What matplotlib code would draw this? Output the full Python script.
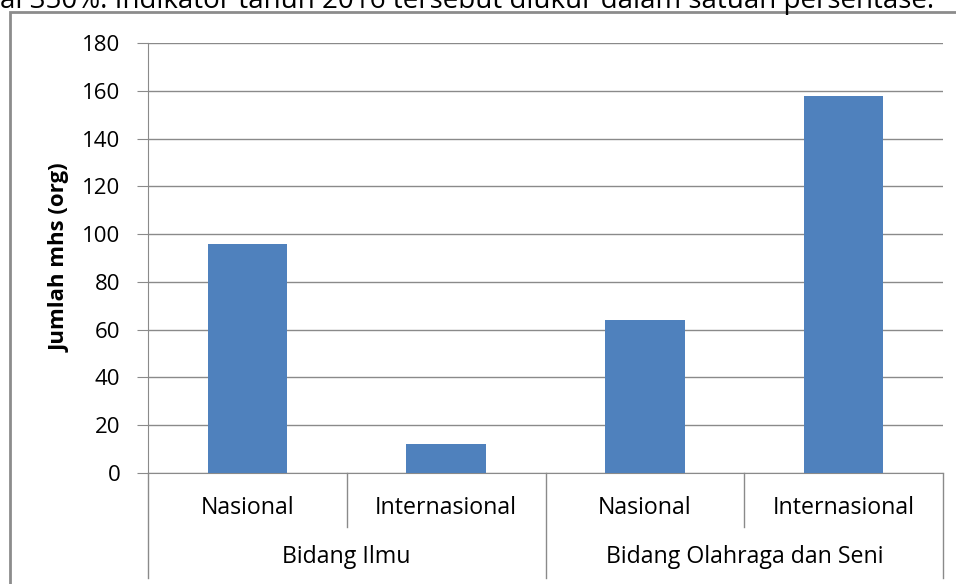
import matplotlib.pyplot as plt
from matplotlib.patches import Rectangle

plt.rcParams['font.family'] = ['Open Sans', 'DejaVu Sans']

# data
kategori = ["Nasional", "Internasional", "Nasional", "Internasional"]
kelompok = ["Bidang Ilmu", "Bidang Olahraga dan Seni"]
jumlah_mhs = [96, 12, 64, 158]
yticks = [0, 20, 40, 60, 80, 100, 120, 140, 160, 180]

W, H = 956, 584
fig = plt.figure(figsize=(W / 100, H / 100), dpi=100)

# text of the page above the chart (cut off at the top, as in the scan)
fig.text(0.0, 1 - 8 / H, "al 350%. Indikator tahun 2016 tersebut diukur dalam satuan persentase.",
         fontsize=20, va="baseline", ha="left", color="black")

# outer chart frame
fig.add_artist(Rectangle((10 / W, -0.1), 1.2, 1 - 12 / H + 0.1, transform=fig.transFigure,
                         fill=False, edgecolor="#8c8c8c", linewidth=2))

ax = fig.add_axes([148 / W, (H - 473) / H, 795 / W, 430 / H])
x = range(len(jumlah_mhs))
ax.bar(x, jumlah_mhs, width=0.40, color="#4F81BD", zorder=3)

ax.set_xlim(-0.5, len(jumlah_mhs) - 0.5)
ax.set_ylim(0, 180)
ax.set_yticks(yticks)
ax.yaxis.grid(True, color="#8a8a8a", linewidth=1)
ax.set_axisbelow(True)
ax.tick_params(axis="y", direction="out", length=8, color="#8a8a8a", labelsize=16, pad=12)
ax.set_xticks([])
for s in ["top", "right"]:
    ax.spines[s].set_visible(False)
ax.spines["left"].set_color("#8a8a8a")
ax.spines["bottom"].set_color("#8a8a8a")
ax.set_ylabel("Jumlah mhs (org)", fontsize=16, fontweight="bold", labelpad=8)

# category axis with groups
tr = ax.get_xaxis_transform()
n = len(jumlah_mhs)
for i in range(n + 1):
    b = i - 0.5
    bawah = -0.244 if i % 2 == 0 else -0.1256
    ax.plot([b, b], [0, bawah], transform=tr, color="#8a8a8a", linewidth=1, clip_on=False)
for i, lab in enumerate(kategori):
    ax.text(i, -0.081, lab, transform=tr, ha="center", va="center", fontsize=16.7)
for j, g in enumerate(kelompok):
    ax.text(2 * j + 0.5, -0.195, g, transform=tr, ha="center", va="center", fontsize=16.7)

fig.savefig("out.png", dpi=100)
